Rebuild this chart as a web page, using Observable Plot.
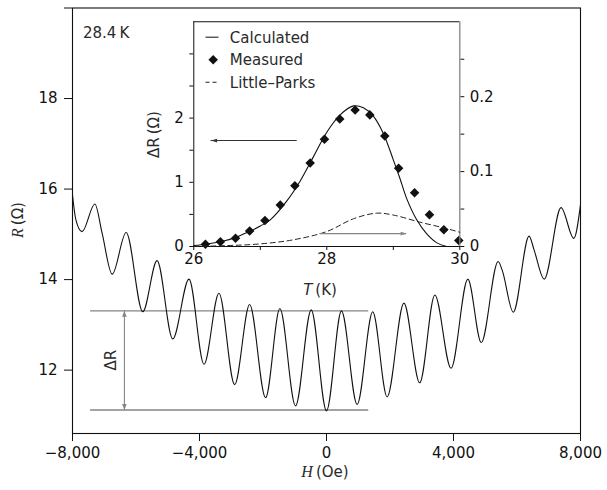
<!DOCTYPE html>
<html><head><meta charset="utf-8">
<script src="https://cdn.jsdelivr.net/npm/d3@7"></script>
<script src="https://cdn.jsdelivr.net/npm/@observablehq/plot@0.6"></script>
<style>
html,body{margin:0;padding:0;background:#fff;}
#chart{position:relative;width:607px;height:490px;overflow:hidden;}
#chart svg{position:absolute;left:0;top:0;}
</style></head><body><div id="chart"></div>
<script>
// ---------- main panel data: R(H) at 28.4 K ----------
const fieldH = [-8000,-7893,-7700,-7296,-7066,-6750,-6310,-5787,-5336,-4843,-4330,-3858,-3387,-2893,-2421,-1918,-1468,-975,-482,0,472,965,1456,1909,2438,2936,3412,3922,4452,4874,5406,5533,5883,6381,6540,6857,7387,7790,8000];
const resistance = [15.87,15.32,15.06,15.67,15.02,14.12,15.04,13.29,14.42,12.69,14.01,12.13,13.70,11.68,13.45,11.39,13.36,11.21,13.33,11.10,13.31,11.24,13.29,11.41,13.48,11.72,13.66,12.04,14.01,12.61,14.40,14.21,13.28,14.96,14.65,14.01,15.59,14.91,15.65];
const mainXDomain = [-8000, 8000];
const mainYDomain = [10.6, 20];
const mainXTicks = [-8000, -4000, 0, 4000, 8000];
const mainYTicks = [12, 14, 16, 18, 20];
const mainYTickLabels = ["12", "14", "16", "18", ""];
const deltaRLevels = [13.31, 11.12];
const deltaRSpanH = [-7430, 1330];
const deltaRArrowH = [-6365];
const deltaRLabel = ["ΔR"];
const deltaRLabelPos = [-6783, 12.22];
const tempLabel = ["28.4\u2009K"];

// ---------- inset data: ΔR(T) ----------
const measT = [26.175,26.40,26.627,26.84,27.07,27.30,27.52,27.75,27.965,28.195,28.426,28.647,28.872,29.08,29.32,29.544,29.76,29.985];
const measDR = [0.036,0.073,0.13,0.24,0.405,0.645,0.945,1.30,1.67,1.985,2.125,2.05,1.72,1.22,0.836,0.494,0.26,0.094];
const calcT = [26.0,26.2,26.45,26.65,26.85,27.0,27.15,27.4,27.6,27.8,28.0,28.2,28.4,28.55,28.7,28.85,29.0,29.1,29.2,29.35,29.5,29.65,29.8];
const calcDR = [0.015,0.04,0.085,0.15,0.24,0.32,0.415,0.71,1.02,1.40,1.78,2.05,2.19,2.16,2.03,1.76,1.35,1.06,0.75,0.42,0.2,0.06,0.0];
const lpT = [26.0,26.5,27.0,27.5,28.0,28.4,28.75,29.0,29.4,29.8,30.0];
const lpDR = [0.0,0.0012,0.0035,0.009,0.02,0.037,0.0445,0.042,0.0325,0.024,0.019];
const insetXDomain = [26, 30];
const insetLeftDomain = [0, 3.5];
const insetRightDomain = [0, 0.3];
const insetXTicks = [26, 27, 28, 29, 30];
const insetXTickLabels = ["26", "", "28", "", "30"];
const insetLeftTicks = [0, 0.5, 1, 1.5, 2, 2.5, 3];
const insetLeftTickLabels = ["0", "", "1", "", "2", "", ""];
const insetRightTicks = [0, 0.05, 0.1, 0.15, 0.2, 0.25];
const insetRightTickLabels = ["0", "", "0.1", "", "0.2", ""];
const legendLabels = ["Calculated", "Measured", "Little\u2013Parks"];
const leftArrowT = [27.555, 26.26];
const leftArrowDR = [1.65];
const rightArrowT = [27.895, 29.2];
const rightArrowDR = [0.0172];

// ---------- styling ----------
const W = 607, H = 490;
const FONT = "DejaVu Sans";
const TXT = "#2a2a2a";
const GRAY = "#858585";
const baseStyle = {fontFamily: FONT, fontSize: "15px", color: "#111", overflow: "visible"};

const sym = (f) => ({draw(ctx) { f(ctx); }});
const headUp = sym(c => { c.moveTo(0,0); c.lineTo(-2.3,6); c.lineTo(2.3,6); c.closePath(); });
const headDown = sym(c => { c.moveTo(0,0); c.lineTo(-2.3,-6); c.lineTo(2.3,-6); c.closePath(); });
const headLeft = sym(c => { c.moveTo(0,0); c.lineTo(6,-1.9); c.lineTo(6,1.9); c.closePath(); });
const headRight = sym(c => { c.moveTo(0,0); c.lineTo(-6,-1.9); c.lineTo(-6,1.9); c.closePath(); });
const swatch = sym(c => { c.moveTo(-6.5,0); c.lineTo(6.5,0); });
const diamond = d3.symbolDiamond2 || "diamond";

const mainData = fieldH.map((h, i) => ({h, r: resistance[i]}));
const fmtIdx = (ticks, labels) => d => { const i = ticks.findIndex(t => Math.abs(t - d) < 1e-9); return i < 0 ? "" : labels[i]; };

const main = Plot.plot({
  width: W, height: H,
  marginLeft: 72, marginRight: 27, marginTop: 7.5, marginBottom: 57,
  style: {...baseStyle, background: "white"},
  x: {domain: mainXDomain, ticks: mainXTicks, tickFormat: d3.format(","), tickSize: 8, tickPadding: 6, label: null},
  y: {domain: mainYDomain, ticks: mainYTicks, tickFormat: fmtIdx(mainYTicks, mainYTickLabels), tickSize: 8, tickPadding: 7, label: null},
  marks: [
    Plot.frame({stroke: "#111", strokeWidth: 1.1}),
    Plot.ruleY(deltaRLevels, {x1: () => deltaRSpanH[0], x2: () => deltaRSpanH[1], stroke: GRAY, strokeWidth: 1.4}),
    Plot.ruleX(deltaRArrowH, {y1: () => deltaRLevels[0], y2: () => deltaRLevels[1], stroke: GRAY, strokeWidth: 1.1}),
    Plot.dot(deltaRArrowH, {x: d => d, y: () => deltaRLevels[0], symbol: headUp, fill: GRAY, stroke: "none"}),
    Plot.dot(deltaRArrowH, {x: d => d, y: () => deltaRLevels[1], symbol: headDown, fill: GRAY, stroke: "none"}),
    Plot.line(mainData, {x: "h", y: "r", curve: "monotone-x", stroke: "#111", strokeWidth: 1.1}),
    Plot.text(deltaRLabel, {x: () => deltaRLabelPos[0], y: () => deltaRLabelPos[1], text: d => d, rotate: -90, fill: TXT, textAnchor: "middle", lineAnchor: "middle"}),
    Plot.text(tempLabel, {frameAnchor: "top-left", dx: 10.5, dy: 25, text: d => d, fill: TXT, textAnchor: "start", lineAnchor: "middle"})
  ]
});

const insetMargins = {marginLeft: 193.3, marginRight: W - 459.3, marginTop: 21.3, marginBottom: H - 246};
const measData = measT.map((t, i) => ({t, v: measDR[i]}));
const calcData = calcT.map((t, i) => ({t, v: calcDR[i]}));
const lpData = lpT.map((t, i) => ({t, v: lpDR[i]}));

const inset = Plot.plot({
  width: W, height: H, ...insetMargins,
  style: {...baseStyle, background: "transparent"},
  x: {domain: insetXDomain, ticks: insetXTicks, tickFormat: fmtIdx(insetXTicks, insetXTickLabels), tickSize: 4, tickPadding: 2.5, label: null, line: true},
  y: {domain: insetLeftDomain, ticks: insetLeftTicks, tickFormat: fmtIdx(insetLeftTicks, insetLeftTickLabels), tickSize: 4, tickPadding: 6, label: null, line: true},
  marks: [
    Plot.ruleY([insetLeftDomain[1]], {stroke: "#111", strokeWidth: 1.1}),
    Plot.line(calcData, {x: "t", y: "v", curve: "catmull-rom", stroke: "#111", strokeWidth: 1.1}),
    Plot.dot(measData, {x: "t", y: "v", symbol: diamond, r: 4.3, fill: "#111", stroke: "none"}),
    Plot.ruleY(leftArrowDR, {x1: () => leftArrowT[0], x2: () => leftArrowT[1], stroke: "#333", strokeWidth: 1.1}),
    Plot.dot(leftArrowDR, {x: () => leftArrowT[1], y: d => d, symbol: headLeft, fill: "#333", stroke: "none"}),
    // legend
    Plot.dot([legendLabels[0]], {frameAnchor: "top-left", dx: 18.2, dy: 15.4, symbol: swatch, fill: "none", stroke: "#222", strokeWidth: 1.1}),
    Plot.dot([legendLabels[1]], {frameAnchor: "top-left", dx: 19.4, dy: 38, symbol: diamond, r: 4.3, fill: "#111", stroke: "none"}),
    Plot.dot([legendLabels[2]], {frameAnchor: "top-left", dx: 18.2, dy: 60.4, symbol: swatch, fill: "none", stroke: "#222", strokeWidth: 1.1, strokeDasharray: "4,3"}),
    Plot.text([legendLabels[0]], {frameAnchor: "top-left", dx: 36, dy: 16.5, text: d => d, fill: TXT, textAnchor: "start", lineAnchor: "middle"}),
    Plot.text([legendLabels[1]], {frameAnchor: "top-left", dx: 36, dy: 38, text: d => d, fill: TXT, textAnchor: "start", lineAnchor: "middle"}),
    Plot.text([legendLabels[2]], {frameAnchor: "top-left", dx: 36, dy: 60.9, text: d => d, fill: TXT, textAnchor: "start", lineAnchor: "middle"})
  ]
});

const insetRight = Plot.plot({
  width: W, height: H, ...insetMargins,
  style: {...baseStyle, background: "transparent"},
  x: {domain: insetXDomain, axis: null},
  y: {domain: insetRightDomain, axis: "right", ticks: insetRightTicks, tickFormat: fmtIdx(insetRightTicks, insetRightTickLabels), tickSize: 4, tickPadding: 6, label: null},
  marks: [
    Plot.ruleX([insetXDomain[1]], {stroke: GRAY, strokeWidth: 1.3}),
    Plot.line(lpData, {x: "t", y: "v", curve: "catmull-rom", stroke: "#222", strokeWidth: 1, strokeDasharray: "5,3.5"}),
    Plot.ruleY(rightArrowDR, {x1: () => rightArrowT[0], x2: () => rightArrowT[1], stroke: GRAY, strokeWidth: 1.3}),
    Plot.dot(rightArrowDR, {x: () => rightArrowT[1], y: d => d, symbol: headRight, fill: GRAY, stroke: "none"})
  ]
});

const root = document.getElementById("chart");
root.append(main, inset, insetRight);

// axis titles with mixed styling (real text)
function label(svg, x, y, parts, rotate) {
  const t = d3.select(svg).append("text")
    .attr("transform", `translate(${x},${y})` + (rotate ? ` rotate(${rotate})` : ""))
    .attr("text-anchor", "middle").attr("fill", TXT)
    .style("font-family", FONT).style("font-size", "15px");
  for (const p of parts) {
    const s = t.append("tspan").text(p.text);
    if (p.family) s.style("font-family", p.family);
    if (p.italic) s.style("font-style", "italic");
    if (p.size) s.style("font-size", p.size);
  }
}
label(main, 325, 477, [{text: "H", family: "Liberation Serif", italic: true, size: "16px"}, {text: "\u2009(Oe)"}]);
label(main, 23, 220, [{text: "R", family: "Liberation Serif", italic: true, size: "16px"}, {text: "\u2009(Ω)"}], -90);
label(inset, 320, 294.5, [{text: "T", italic: true}, {text: "\u2009(K)"}]);
label(inset, 158.7, 134.5, [{text: "ΔR\u2009(Ω)"}], -90);
</script>
</body></html>
